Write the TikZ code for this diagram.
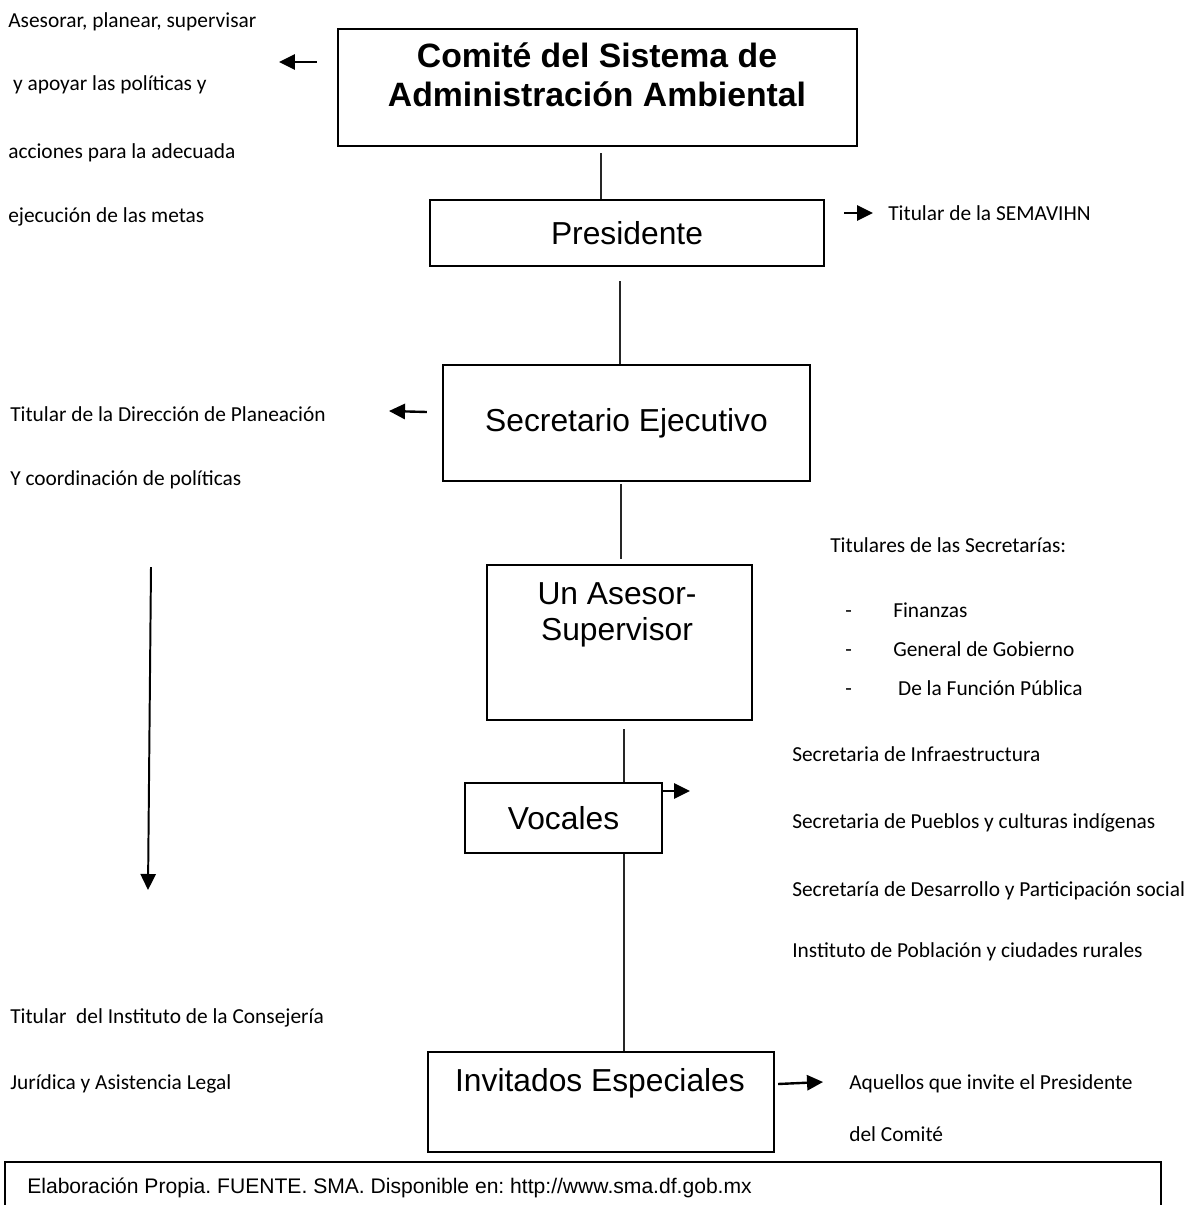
\documentclass[tikz,border=0pt]{standalone}
\usepackage{fontspec}
\setmainfont{Carlito}
\newfontfamily\arial{Liberation Sans}
\usetikzlibrary{arrows.meta,positioning,calc}
\frenchspacing

\tikzset{
  caja/.style={draw, line width=1.4pt, inner sep=0pt},
  rotulo/.style={font=\arial\fontsize{22.6}{25.6}\selectfont, align=center, inner sep=0pt},
  nota/.style={anchor=base west, inner sep=0pt, font=\fontsize{15.2}{18}\selectfont},
  enlace/.style={line width=0.8pt, black!85},
  flecha/.style={line width=1.7pt, -{Triangle[length=0.4cm,width=0.38cm]}},
}

\begin{document}
\begin{tikzpicture}[x=0.025cm, y=-0.025cm]
\useasboundingbox (0,0) rectangle (1187,1205);

% cajas del organigrama
\node[caja, minimum width=12.975cm, minimum height=2.925cm] (comite) at (597.5,87.5) {};
\node[rotulo, font=\arial\bfseries\fontsize{24}{28}\selectfont] (comite-txt) at (597,75) {Comité del Sistema de\\Administración Ambiental};
\node[caja, rotulo, minimum width=9.85cm, minimum height=1.65cm] (presidente) at (627,233) {Presidente};
\node[caja, rotulo, minimum width=9.175cm, minimum height=2.9cm] (secretario) at (626.5,423) {Secretario Ejecutivo};
\node[caja, minimum width=6.625cm, minimum height=3.875cm] (asesor) at (619.5,642.5) {};
\node[rotulo] (asesor-txt) at (617,615) {Un Asesor-\\Supervisor};
\node[caja, rotulo, minimum width=4.925cm, minimum height=1.75cm] (vocales) at (563.5,818) {Vocales};
\node[caja, minimum width=8.65cm, minimum height=2.5cm] (invitados) at (601,1102) {};
\node[rotulo] (invitados-txt) at (600,1083) {Invitados Especiales};

% lineas de mando
\draw[enlace] ([xshift=0.0875cm,yshift=-0.15cm]comite.south) -- ([xshift=0.0875cm]comite.south |- presidente.north);
\draw[enlace] ([xshift=-0.175cm,yshift=-0.35cm]presidente.south) -- ([xshift=-0.175cm]presidente.south |- secretario.north);
\draw[enlace, shorten >=0.125cm] ([xshift=-0.1375cm,yshift=-0.05cm]secretario.south) -- ([xshift=-0.1375cm]secretario.south |- asesor.north);
\draw[enlace] ([xshift=0.1125cm,yshift=-0.2cm]asesor.south) -- ([xshift=0.1125cm]asesor.south |- vocales.north);
\draw[enlace] ([xshift=1.5125cm]vocales.south) -- ([xshift=1.5125cm]vocales.south |- invitados.north);

% funciones del comite
\node[nota] (func1) at (8,27) {Asesorar, planear, supervisar};
\node[nota] (func2) at (8,90) {\ y apoyar las políticas y};
\node[nota] (func3) at (8,158) {acciones para la adecuada};
\node[nota] (func4) at (8,222) {ejecución de las metas};
\draw[flecha] ([xshift=-0.5cm,yshift=0.6375cm]comite.west) -- ++(-38,0);

\node[nota] (semavihn) at (888,220) {Titular de la SEMAVIHN};
\draw[flecha] ([xshift=0.475cm,yshift=0.5cm]presidente.east) -- ++(29,0);

\node[nota] (planeacion1) at (10,421) {Titular de la Dirección de Planeación};
\node[nota] (planeacion2) at (10,485) {Y coordinación de políticas};
\draw[flecha] ([xshift=-0.375cm,yshift=0.275cm]secretario.west) -- ++(-38,-1);

% secretarias del asesor
\node[nota] (titulares) at (830,552) {Titulares de las Secretarías:};
\foreach \y/\nombre/\txt in {617/finanzas/Finanzas, 656/gobierno/General de Gobierno, 695/funcion/\ De la Función Pública}{
  \node[nota] at (845,\y) {-};
  \node[nota] (\nombre) at (893,\y) {\txt};
}

% vocales
\node[nota] (infra) at (792,761) {Secretaria de Infraestructura};
\node[nota] (pueblos) at (792,828) {Secretaria de Pueblos y culturas indígenas};
\node[nota] (desarrollo) at (792,896) {Secretaría de Desarrollo y Participación social};
\node[nota] (poblacion) at (792,957) {Instituto de Población y ciudades rurales};
\draw[flecha] ([yshift=0.675cm]vocales.east) -- ++(27,0);

% consejeria juridica
\coordinate (bajada-ini) at (151,567);
\coordinate (bajada-fin) at (148,890);
\draw[flecha, line width=1.4pt] (bajada-ini) -- (bajada-fin);
\node[nota] (consejeria1) at (10,1023) {Titular\ \ del Instituto de la Consejería};
\node[nota] (consejeria2) at (10,1089) {Jurídica y Asistencia Legal};

% invitados
\node[nota] (aquellos1) at (849,1089) {Aquellos que invite el Presidente};
\node[nota] (aquellos2) at (849,1141) {del Comité};
\draw[flecha] ([xshift=0.075cm,yshift=0.45cm]invitados.east) -- ++(45,-2);

% fuente
\node[caja, minimum width=28.9cm, minimum height=1.2cm] (fuente) at (583,1186) {};
\node[anchor=base west, inner sep=0pt, font=\arial\fontsize{15}{18}\selectfont] (fuente-txt) at (27,1193) {Elaboración Propia. FUENTE. SMA. Disponible en: http://www.sma.df.gob.mx};
\end{tikzpicture}
\end{document}
